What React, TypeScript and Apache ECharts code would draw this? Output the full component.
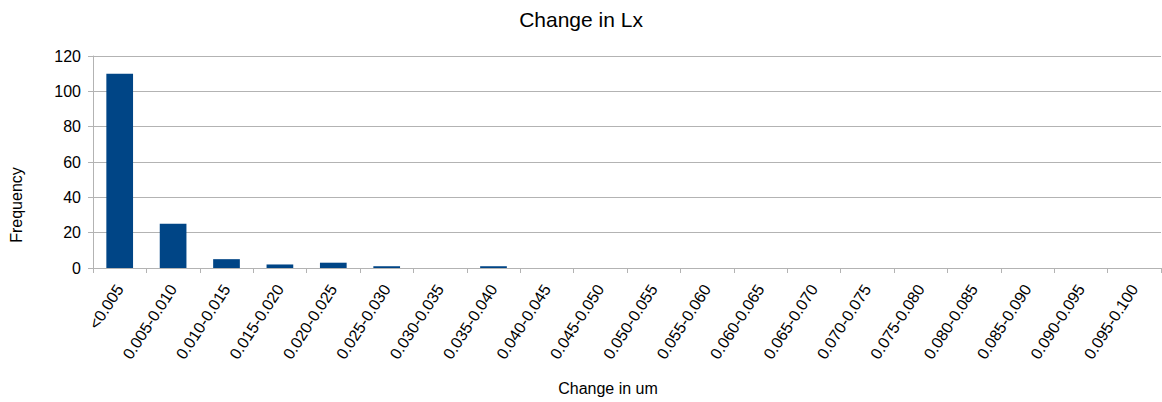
import React, { useEffect, useRef } from "react";
import * as echarts from "echarts";

const categories = [
  "<0.005", "0.005-0.010", "0.010-0.015", "0.015-0.020", "0.020-0.025",
  "0.025-0.030", "0.030-0.035", "0.035-0.040", "0.040-0.045", "0.045-0.050",
  "0.050-0.055", "0.055-0.060", "0.060-0.065", "0.065-0.070", "0.070-0.075",
  "0.075-0.080", "0.080-0.085", "0.085-0.090", "0.090-0.095", "0.095-0.100",
];
const frequency = [110, 25, 5, 2, 3, 1, 0, 1, 0, 0, 0, 0, 0, 0, 0, 0, 0, 0, 0, 0];
const yTicks = { min: 0, max: 120, interval: 20 };

export default function App() {
  const ref = useRef<HTMLDivElement>(null);
  useEffect(() => {
    document.body.style.margin = "0";
    const chart = echarts.init(ref.current!, null, { renderer: "svg" });
    const font = "'Liberation Sans', Arial, sans-serif";
    chart.setOption({
      animation: false,
      textStyle: { fontFamily: font },
      title: {
        text: "Change in Lx",
        left: "center",
        top: 4,
        textStyle: { fontSize: 21, fontWeight: "normal", color: "#000", fontFamily: font },
      },
      grid: { left: 93, right: 1, top: 56, bottom: 134, containLabel: false },
      xAxis: {
        type: "category",
        data: categories,
        axisLine: { lineStyle: { color: "#b3b3b3" } },
        axisTick: { show: true, length: 5, alignWithLabel: false, lineStyle: { color: "#b3b3b3" } },
        axisLabel: {
          rotate: 57,
          interval: 0,
          fontSize: 16,
          color: "#000",
          margin: 18,
          fontFamily: font,
        },
      },
      yAxis: {
        type: "value",
        min: yTicks.min,
        max: yTicks.max,
        interval: yTicks.interval,
        axisLine: { show: true, lineStyle: { color: "#b3b3b3" } },
        axisTick: { show: true, length: 5, lineStyle: { color: "#b3b3b3" } },
        axisLabel: { fontSize: 16, color: "#000", margin: 12, fontFamily: font },
        splitLine: { lineStyle: { color: "#b3b3b3" } },
      },
      graphic: [
        {
          type: "text",
          x: 16.5,
          y: 205,
          rotation: Math.PI / 2,
          style: {
            text: "Frequency",
            fill: "#000",
            font: `16px ${font}`,
            textAlign: "center",
            textVerticalAlign: "middle",
          },
        },
        {
          type: "text",
          x: 608,
          y: 388,
          style: {
            text: "Change in um",
            fill: "#000",
            font: `16px ${font}`,
            textAlign: "center",
            textVerticalAlign: "middle",
          },
        },
      ],
      series: [
        {
          type: "bar",
          data: frequency,
          barWidth: "50%",
          itemStyle: { color: "#004586" },
        },
      ],
    });
    return () => chart.dispose();
  }, []);
  return <div ref={ref} style={{ width: 1162, height: 402 }} />;
}
